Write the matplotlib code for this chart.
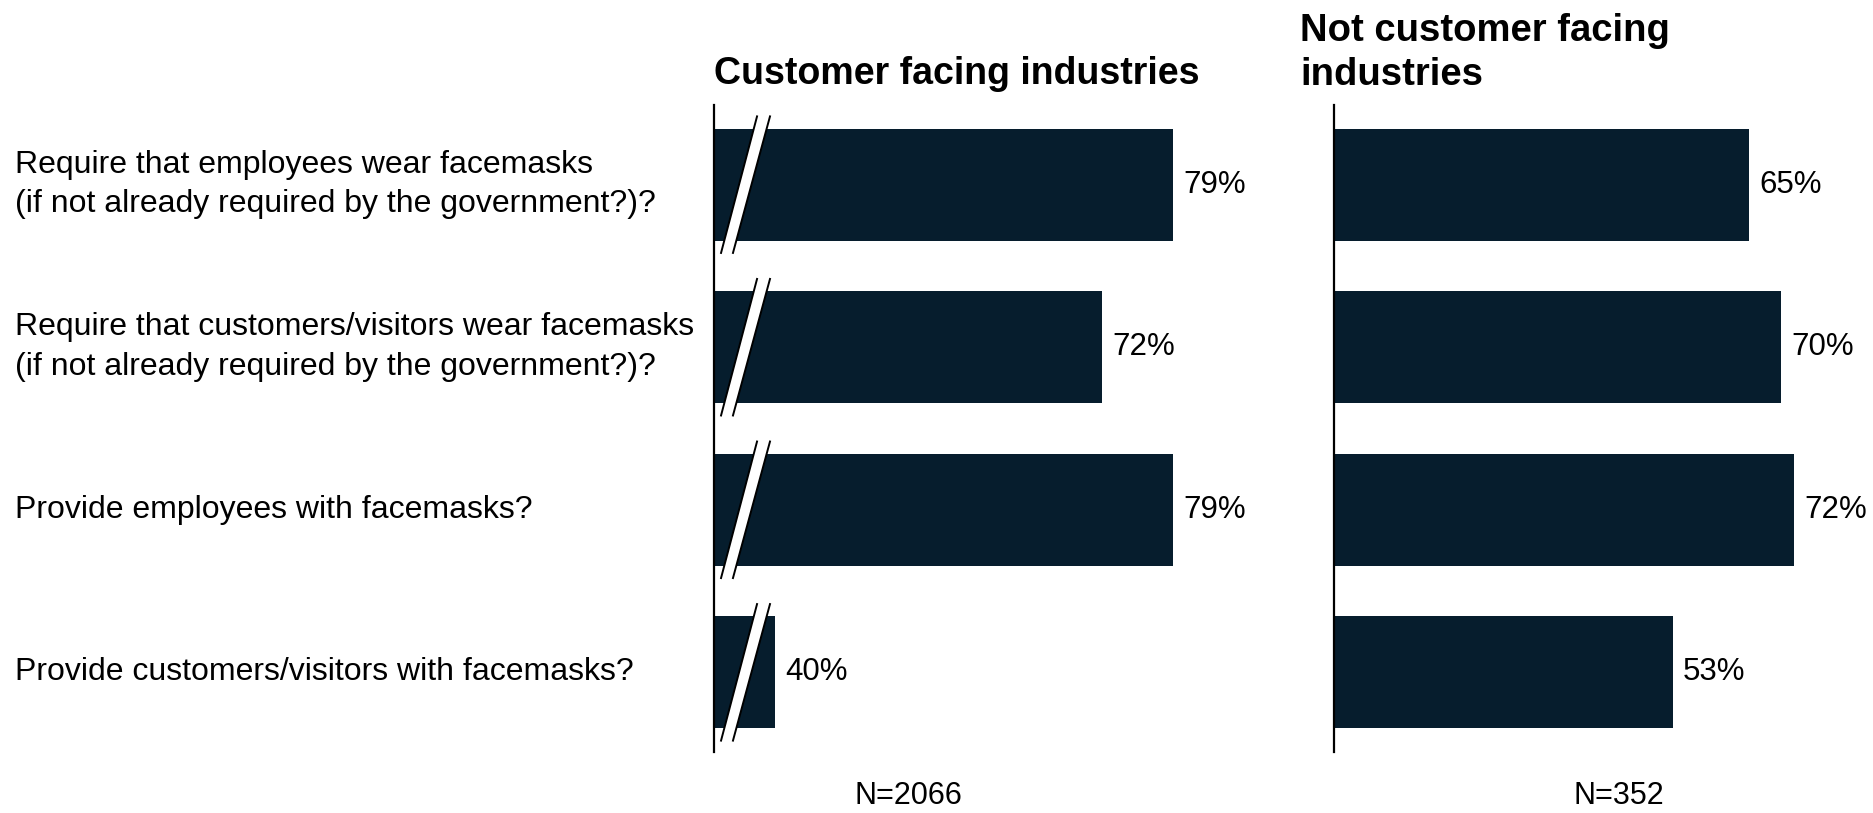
import matplotlib
matplotlib.use("Agg")
import matplotlib.pyplot as plt
from matplotlib.patches import Polygon
from matplotlib.transforms import blended_transform_factory

plt.rcParams['font.family'] = ['Liberation Sans', 'DejaVu Sans']

# Survey questions and shares answering yes (%)
questions = [
    "Require that employees wear facemasks\n(if not already required by the government?)?",
    "Require that customers/visitors wear facemasks\n(if not already required by the government?)?",
    "Provide employees with facemasks?",
    "Provide customers/visitors with facemasks?",
]
customer_facing = [79, 72, 79, 40]
not_customer_facing = [65, 70, 72, 53]

left_title = "Customer facing industries"
right_title = "Not customer facing\nindustries"
left_n = "N=2066"
right_n = "N=352"

bar_color = '#061d2d'
W, H = 1873, 813

fig = plt.figure(figsize=(W / 100, H / 100), dpi=100)

# axes placed in pixel units
def px_axes(x0, x1, y_top, y_bottom):
    return fig.add_axes([x0 / W, 1 - y_bottom / H, (x1 - x0) / W, (y_bottom - y_top) / H])

ax1 = px_axes(714, 1224, 105, 752)
ax2 = px_axes(1334, 1845, 105, 752)

ypos = list(range(len(questions)))
bar_h = 0.69

for ax, vals, x0 in [(ax1, customer_facing, 34), (ax2, not_customer_facing, 0)]:
    ax.barh(ypos, vals, height=bar_h, color=bar_color, left=0)
    ax.set_xlim(x0, x0 + 50 if x0 else 80)
    ax.set_ylim(len(questions) - 0.51, -0.49)
    for s in ['top', 'right', 'bottom']:
        ax.spines[s].set_visible(False)
    ax.spines['left'].set_linewidth(1.6)
    ax.spines['left'].set_color('black')
    ax.set_xticks([])
    ax.set_yticks([])
    for y, v in zip(ypos, vals):
        ax.annotate(f"{v}%", (v, y), xytext=(7.5, 0), textcoords='offset points',
                    va='center', ha='left', fontsize=22.5, color='black')

# axis break marks on the truncated left panel
for y in ypos:
    bx = [34.69, 35.86, 39.49, 38.22]
    by = [y + 0.42, y + 0.42, y - 0.42, y - 0.42]
    ax1.add_patch(Polygon(list(zip(bx, by)), closed=True, facecolor='white',
                          edgecolor='none', zorder=3, clip_on=False))
    ax1.plot([bx[0], bx[3]], [by[0], by[3]], color='black', lw=1.4, zorder=4, clip_on=False)
    ax1.plot([bx[1], bx[2]], [by[1], by[2]], color='black', lw=1.4, zorder=4, clip_on=False)

# question labels on the far left
tr = blended_transform_factory(fig.transFigure, ax1.transData)
for y, q in zip(ypos, questions):
    ax1.text(15 / W, y, q, transform=tr, ha='left', va='center',
             fontsize=23, linespacing=1.42, color='black')

fig.text(714 / W, 1 - 74 / H, left_title, ha='left', va='center',
         fontsize=27, fontweight='bold')
fig.text(1300 / W, 1 - 53 / H, right_title, ha='left', va='center',
         fontsize=27.5, fontweight='bold', linespacing=1.3)

fig.text(908 / W, 1 - 796 / H, left_n, ha='center', va='center', fontsize=22)
fig.text(1619 / W, 1 - 796 / H, right_n, ha='center', va='center', fontsize=22)

fig.savefig('out.png', dpi=100, facecolor='white')
